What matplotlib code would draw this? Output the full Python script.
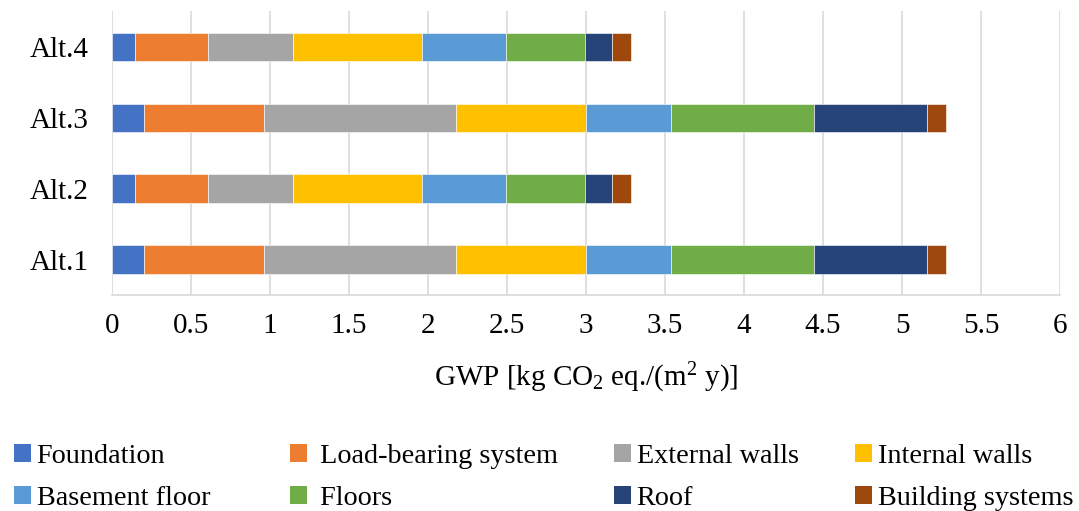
import numpy as np
import matplotlib
matplotlib.use('Agg')
import matplotlib.pyplot as plt
from matplotlib.patches import Patch

plt.rcParams['font.family'] = 'Liberation Serif'
plt.rcParams['mathtext.default'] = 'regular'

alternatives = ['Alt.1', 'Alt.2', 'Alt.3', 'Alt.4']
components = ['Foundation', ' Load-bearing system', 'External walls', 'Internal walls',
              'Basement floor', ' Floors', 'Roof', 'Building systems']
colors = ['#4472c4', '#ed7d31', '#a5a5a5', '#ffc000',
          '#5b9bd5', '#70ad47', '#264478', '#9e480e']

# GWP per component for Alt.1 .. Alt.4
foundation = [0.20, 0.145, 0.20, 0.145]
load_bearing = [0.76, 0.46, 0.76, 0.46]
external_walls = [1.22, 0.54, 1.22, 0.54]
internal_walls = [0.82, 0.82, 0.82, 0.82]
basement_floor = [0.54, 0.53, 0.54, 0.53]
floors = [0.90, 0.50, 0.90, 0.50]
roof = [0.72, 0.17, 0.72, 0.17]
building_systems = [0.12, 0.12, 0.12, 0.12]

series = [foundation, load_bearing, external_walls, internal_walls,
          basement_floor, floors, roof, building_systems]

fig = plt.figure(figsize=(10.79, 5.11), dpi=100)
ax = fig.add_axes([0.1038, 0.4227, 0.8786, 0.555])

y = np.arange(len(alternatives))
left = np.zeros(len(alternatives))
for vals, c in zip(series, colors):
    ax.barh(y, vals, left=left, height=0.4, color=c, edgecolor='white', linewidth=0.4, zorder=3)
    left += np.array(vals)

ax.set_xlim(0, 6)
ax.set_ylim(-0.5, 3.5)
ax.set_xticks(np.arange(0, 6.01, 0.5))
ax.set_xticklabels(['0', '0.5', '1', '1.5', '2', '2.5', '3', '3.5', '4', '4.5', '5', '5.5', '6'])
ax.set_yticks(y)
ax.set_yticklabels(alternatives)
ax.tick_params(axis='both', length=0, labelsize=21)
ax.tick_params(axis='x', pad=13)
ax.tick_params(axis='y', pad=17)
ax.grid(axis='x', color='#d9d9d9', linewidth=1.2, zorder=0)
for s in ['top', 'right', 'left']:
    ax.spines[s].set_visible(False)
ax.spines['bottom'].set_color('#d9d9d9')
ax.spines['bottom'].set_linewidth(1.2)
ax.set_xlabel('GWP [kg CO$_2$ eq./(m$^2$ y)]', fontsize=21, labelpad=16)

# legend: one small legend per column, two rows each
col_x = [14, 290, 614, 855]
for k, x0 in enumerate(col_x):
    idx = [k, k + 4]
    handles = [Patch(facecolor=colors[i], label=components[i]) for i in idx]
    fig.legend(handles=handles, loc='lower left', bbox_to_anchor=(x0 / 1079, 0.0),
               frameon=False, fontsize=20.3, handlelength=0.6, handleheight=0.6,
               handletextpad=0.2, labelspacing=0.6, borderpad=0, borderaxespad=0)

fig.savefig('out.png', dpi=100)
